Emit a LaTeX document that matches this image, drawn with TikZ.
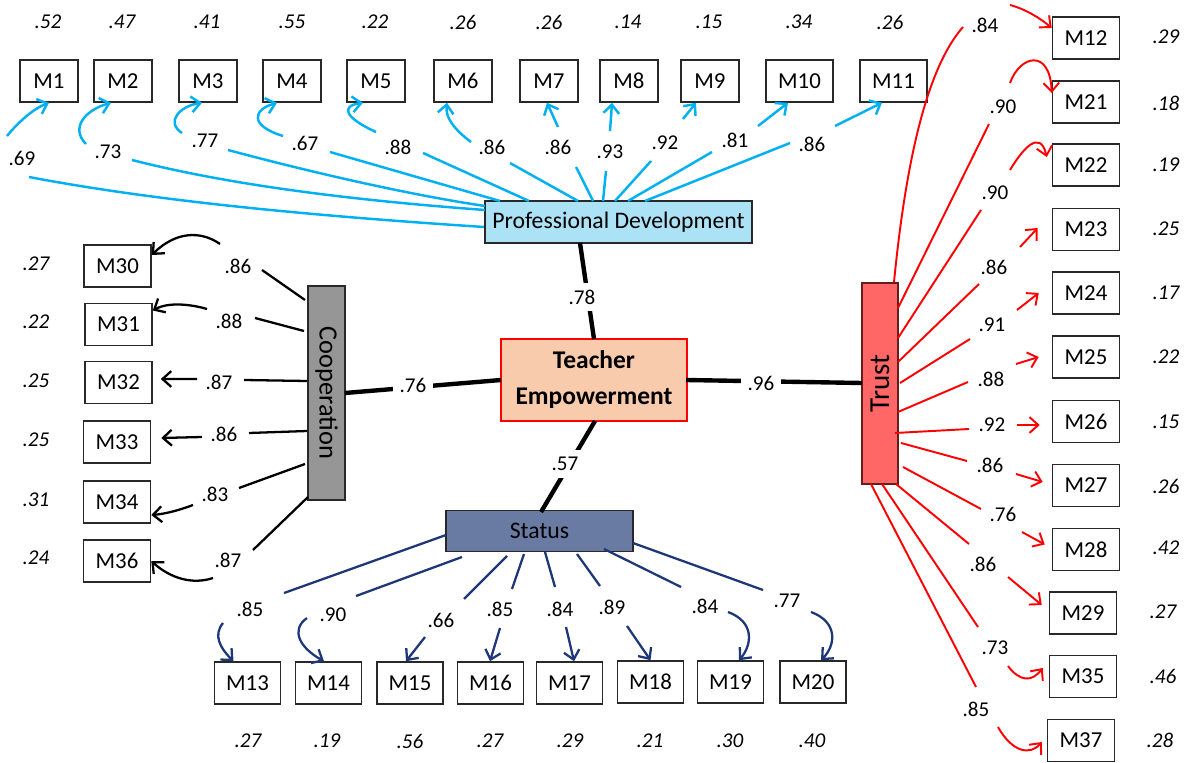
\documentclass[tikz,border=0pt]{standalone}
\usepackage{fontspec}
\setmainfont{Carlito}
\usetikzlibrary{arrows.meta}
\newcommand\myfs[1]{\fontsize{#1}{#1}\selectfont}
\definecolor{cyanc}{RGB}{0,176,240}
\definecolor{navyc}{RGB}{30,55,120}
\definecolor{pdfill}{RGB}{172,226,246}
\definecolor{tefill}{RGB}{248,203,173}
\definecolor{coopfill}{RGB}{150,150,150}
\definecolor{trustfill}{RGB}{255,102,102}
\definecolor{statfill}{RGB}{106,123,163}
\definecolor{boxline}{RGB}{40,40,40}
\tikzset{
  ind/.style={draw=boxline, line width=0.9pt, fill=white, minimum width=1.34cm, minimum height=0.84cm, inner sep=0pt, font=\myfs{13}},
  narrow/.style={minimum width=1.17cm},
  lat/.style={draw=boxline, line width=0.9pt, inner sep=0pt, font=\myfs{13}},
  lab/.style={font=\myfs{12}, inner sep=1pt},
  err/.style={font=\myfs{12}\itshape, inner sep=1pt},
  cy/.style={cyanc, line width=1.4pt},
  rd/.style={red, line width=1.1pt},
  nv/.style={navyc, line width=1.3pt},
  bk/.style={black, line width=1.3pt},
  mainln/.style={black, line width=2.5pt},
  tip/.style={-{Straight Barb[length=5pt,width=9pt]}},
}
\begin{document}
\begin{tikzpicture}[x=0.02cm,y=-0.02cm]
\useasboundingbox (0,0) rectangle (1189,763);

% ---------- latent variables ----------
\node[lat, fill=pdfill, minimum width=5.34cm, minimum height=0.84cm, font=\myfs{13.5}] (pd) at (618.5,222) {Professional Development};
\node[lat, draw=red, line width=1.2pt, fill=tefill, minimum width=3.72cm, minimum height=1.64cm, align=center, font=\myfs{14.5}\bfseries] (te) at (594,380) {Teacher\\[6pt]Empowerment};
\node[lat, fill=coopfill, minimum width=0.74cm, minimum height=4.28cm] (coop) at (326.5,393) {};
\node[rotate=-90, font=\myfs{15}] (cooptext) at (coop.center) {Cooperation};
\node[lat, draw=boxline!70!red, fill=trustfill, minimum width=0.72cm, minimum height=4.02cm] (trust) at (880,383.5) {};
\node[rotate=90, font=\myfs{16.5}] (trusttext) at (trust.center) {Trust};
\node[lat, fill=statfill, minimum width=3.74cm, minimum height=0.82cm, font=\myfs{13.5}] (status) at (539.5,531) {Status};

% ---------- main paths ----------
\coordinate (pdb) at (580,243);
\coordinate (tet) at (594,339);
\coordinate (teb) at (595,421);
\coordinate (stt) at (541,512);
\coordinate (coopr) at (345,393);
\coordinate (tel) at (501,380);
\coordinate (ter) at (686,380);
\coordinate (trl) at (862,383);
\draw[mainln] (pdb) -- (tet);
\draw[mainln] (teb) -- (stt);
\draw[mainln] (coopr) -- (tel);
\draw[mainln] (ter) -- (trl);
\node[lab, fill=white, inner sep=4pt] (l78) at (582,297) {.78};
\node[lab, fill=white, inner sep=4pt] (l57) at (565,464) {.57};
\node[lab, fill=white, inner sep=4pt] (l76) at (413,385) {.76};
\node[lab, fill=white, inner sep=4pt] (l96) at (761,383) {.96};

% ---------- top indicators ----------
\node[ind, narrow] (m1) at (49,81) {M1};
\node[ind, narrow] (m2) at (123,81) {M2};
\node[ind, narrow] (m3) at (208,81) {M3};
\node[ind, narrow] (m4) at (292,81) {M4};
\node[ind, narrow] (m5) at (376,81) {M5};
\node[ind, narrow] (m6) at (463,81) {M6};
\node[ind, narrow] (m7) at (549,81) {M7};
\node[ind, narrow] (m8) at (629,81) {M8};
\node[ind, narrow] (m9) at (710,81) {M9};
\node[ind] (m10) at (799.5,81) {M10};
\node[ind] (m11) at (893.5,81) {M11};

\foreach \x/\v in {48/.52,122/.47,207/.41,292/.55,375/.22,463/.26,549/.26,628/.14,709/.15,799/.34,890/.26}
  \node[err] at (\x,22) {\v};

\draw[cy] (484,227) .. controls (300,215) and (150,200) .. (29,177);
\draw[cy] (485,210) .. controls (350,200) and (230,185) .. (132,160);
\draw[cy] (485,206) .. controls (410,195) and (310,172) .. (228,150);
\draw[cy] (500,201) -- (330,152);
\draw[cy] (529,201) -- (423,153);
\draw[cy] (578,201) -- (510,163);
\draw[cy] (593,201) -- (576,167);
\draw[cy] (603,201) -- (606,171);
\draw[cy] (615,201) -- (651,161);
\draw[cy] (628,201) -- (712,152);
\draw[cy] (645,201) -- (790,143);

\draw[cy, tip] (7,136) .. controls (20,120) and (35,108) .. (m1.south);
\draw[cy, tip] (86,144) .. controls (70,128) and (85,110) .. ([xshift=-0.24cm]m2.south);
\draw[cy, tip] (182,133) .. controls (165,122) and (180,106) .. ([xshift=-0.12cm]m3.south);
\draw[cy, tip] (283,136) .. controls (250,126) and (252,110) .. ([xshift=-0.3cm]m4.south);
\draw[cy, tip] (376,132) .. controls (345,118) and (340,106) .. ([xshift=-0.26cm]m5.south);
\draw[cy, tip] (471,142) .. controls (455,130) and (445,118) .. ([xshift=-0.32cm]m6.south);
\draw[cy, tip] (558,127) -- ([xshift=-0.04cm]m7.south);
\draw[cy, tip] (610,131) -- ([xshift=-0.34cm]m8.south);
\draw[cy, tip] (683,119) -- ([xshift=-0.28cm]m9.south);
\draw[cy, tip] (758,126) -- ([xshift=-0.23cm]m10.south);
\draw[cy, tip] (835,126) -- ([xshift=-0.23cm]m11.south);

\foreach \x/\y/\v in {22/158/.69,108/152/.73,205/141/.77,305/143/.67,398/147/.88,492/147/.86,558/147/.86,610/152/.93,665/143/.92,735/140/.81,812/144/.86}
  \node[lab] at (\x,\y) {\v};

% ---------- left indicators ----------
\node[ind] (m30) at (117.5,266) {M30};
\node[ind] (m31) at (118.5,324.5) {M31};
\node[ind] (m32) at (118.5,382.5) {M32};
\node[ind] (m33) at (117,442) {M33};
\node[ind] (m34) at (117,502) {M34};
\node[ind] (m36) at (117,561) {M36};

\foreach \y/\v in {264/.27,322/.22,381/.25,440/.25,500/.31,558/.24}
  \node[err] at (36,\y) {\v};

\draw[bk] (305,300) -- (262,270);
\draw[bk] (304,331) -- (255,318);
\draw[bk] (307,381) -- (244,380);
\draw[bk] (307,431) -- (249,433);
\draw[bk] (305,464) -- (239,488);
\draw[bk] (308,497) -- (253,550);

\draw[bk, tip] (220,244) .. controls (200,230) and (175,232) .. ([yshift=0.22cm]m30.east);
\draw[bk, tip] (207,309) .. controls (190,304) and (168,302) .. ([yshift=0.28cm]m31.east);
\draw[bk, tip] (197,379) -- ([xshift=0.16cm,yshift=0.07cm]m32.east);
\draw[bk, tip] (202,437) -- ([xshift=0.2cm,yshift=0.08cm]m33.east);
\draw[bk, tip] (193,505) .. controls (180,510) and (165,514) .. ([yshift=-0.26cm]m34.east);
\draw[bk, tip] (213,578) .. controls (192,585) and (170,578) .. (m36.east);

\foreach \x/\y/\v in {238/266/.86,229/321/.88,219/382/.87,224/434/.86,215/494/.83,228/560/.87}
  \node[lab] at (\x,\y) {\v};

% ---------- bottom indicators ----------
\node[ind, minimum width=1.32cm] (m13) at (247.5,683) {M13};
\node[ind, minimum width=1.32cm] (m14) at (328.5,683) {M14};
\node[ind, minimum width=1.32cm] (m15) at (410,683) {M15};
\node[ind, minimum width=1.32cm] (m16) at (490.5,683) {M16};
\node[ind, minimum width=1.32cm] (m17) at (569.5,683) {M17};
\node[ind, minimum width=1.32cm] (m18) at (650.5,682) {M18};
\node[ind, minimum width=1.32cm] (m19) at (730.5,682) {M19};
\node[ind, minimum width=1.32cm] (m20) at (813,682) {M20};

\foreach \x/\v in {248/.27,327/.19,410/.56,490/.27,570/.29,650/.21,730/.30,812/.40}
  \node[err] at (\x,741) {\v};

\draw[nv] (446,535) -- (284,593);
\draw[nv] (462,557) -- (356,596);
\draw[nv] (507,556) -- (464,599);
\draw[nv] (524,554) -- (512,589);
\draw[nv] (545,552) -- (555,587);
\draw[nv] (577,554) -- (600,586);
\draw[nv] (604,549) -- (681,587);
\draw[nv] (633,543) -- (763,590);

\draw[nv, tip] (223,623) .. controls (213,635) and (220,648) .. ([xshift=-0.28cm]m13.north);
\draw[nv, tip] (307,618) .. controls (290,630) and (300,648) .. ([xshift=-0.09cm]m14.north);
\draw[nv, tip] (425,637) -- ([xshift=-0.08cm]m15.north);
\draw[nv, tip] (500,628) -- ([xshift=-0.01cm]m16.north);
\draw[nv, tip] (566,627) -- ([xshift=0.09cm]m17.north);
\draw[nv, tip] (627,626) -- (m18.north);
\draw[nv, tip] (728,612) .. controls (755,622) and (752,645) .. ([xshift=0.17cm]m19.north);
\draw[nv, tip] (811,612) .. controls (838,622) and (836,645) .. ([xshift=0.16cm]m20.north);

\foreach \x/\y/\v in {250/609/.85,333/615/.90,441/620/.66,500/609/.85,560/609/.84,612/607/.89,705/606/.84,787/601/.77}
  \node[lab] at (\x,\y) {\v};

% ---------- right indicators ----------
\node[ind] (m12) at (1086,38) {M12};
\node[ind] (m21) at (1086,102) {M21};
\node[ind] (m22) at (1086,165) {M22};
\node[ind] (m23) at (1086,229.5) {M23};
\node[ind] (m24) at (1086,293) {M24};
\node[ind] (m25) at (1086,357) {M25};
\node[ind] (m26) at (1086,421.5) {M26};
\node[ind] (m27) at (1086,485.5) {M27};
\node[ind] (m28) at (1086,549.5) {M28};
\node[ind] (m29) at (1083,613) {M29};
\node[ind] (m35) at (1083,676.5) {M35};
\node[ind] (m37) at (1081,740.5) {M37};

\foreach \x/\y/\v in {1166/37/.29,1166/103/.18,1166/165/.19,1166/229/.25,1166/293/.17,1166/357/.22,1166/422/.15,1166/486/.26,1166/548/.42,1163/612/.27,1163/676/.46,1160/740/.28}
  \node[err] at (\x,\y) {\v};

\draw[rd] (894,282) .. controls (905,170) and (925,70) .. (963,27);
\draw[rd] (898,308) -- (989,124);
\draw[rd] (898,338) -- (981,210);
\draw[rd] (898,362) -- (979,284);
\draw[rd] (900,383) -- (970,339);
\draw[rd] (898,412) -- (968,382);
\draw[rd] (895,433) -- (969,429);
\draw[rd] (901,443) -- (967,461);
\draw[rd] (903,467) -- (981,509);
\draw[rd] (896,484) -- (969,544);
\draw[rd] (882,484) -- (978,627);
\draw[rd] (871,484) -- (976,687);

\draw[rd, tip] (1010,5) .. controls (1025,9) and (1040,18) .. ([yshift=0.2cm]m12.west);
\draw[rd, tip] (1010,83) .. controls (1020,55) and (1050,48) .. ([yshift=0.18cm]m21.west);
\draw[rd, tip] (1010,170) .. controls (1022,150) and (1040,128) .. ([xshift=-0.1cm,yshift=0.16cm]m22.west);
\draw[rd, tip] (1020,247) -- ([xshift=-0.28cm,yshift=0.03cm]m23.west);
\draw[rd, tip] (1017,310) -- ([xshift=-0.26cm]m24.west);
\draw[rd, tip] (1016,364) -- ([xshift=-0.26cm]m25.west);
\draw[rd, tip] (1017,425) -- ([xshift=-0.24cm,yshift=-0.07cm]m26.west);
\draw[rd, tip] (1016,474) -- ([xshift=-0.18cm,yshift=0.07cm]m27.west);
\draw[rd, tip] (1022,532) -- ([xshift=-0.14cm,yshift=0.1cm]m28.west);
\draw[rd, tip] (1008,577) -- ([xshift=-0.14cm,yshift=0.16cm]m29.west);
\draw[rd, tip] (1008,666) .. controls (1020,682) and (1032,682) .. ([xshift=-0.12cm,yshift=0.17cm]m35.west);
\draw[rd, tip] (998,727) .. controls (1012,752) and (1030,756) .. ([xshift=-0.1cm,yshift=-0.03cm]m37.west);

\foreach \x/\y/\v in {985/25/.84,1003/107/.90,995/193/.90,994/267/.86,992/325/.91,991/379/.88,992/425/.92,990/465/.86,1003/514/.76,983/564/.86,995/648/.73,976/709/.85}
  \node[lab] at (\x,\y) {\v};
\end{tikzpicture}
\end{document}
